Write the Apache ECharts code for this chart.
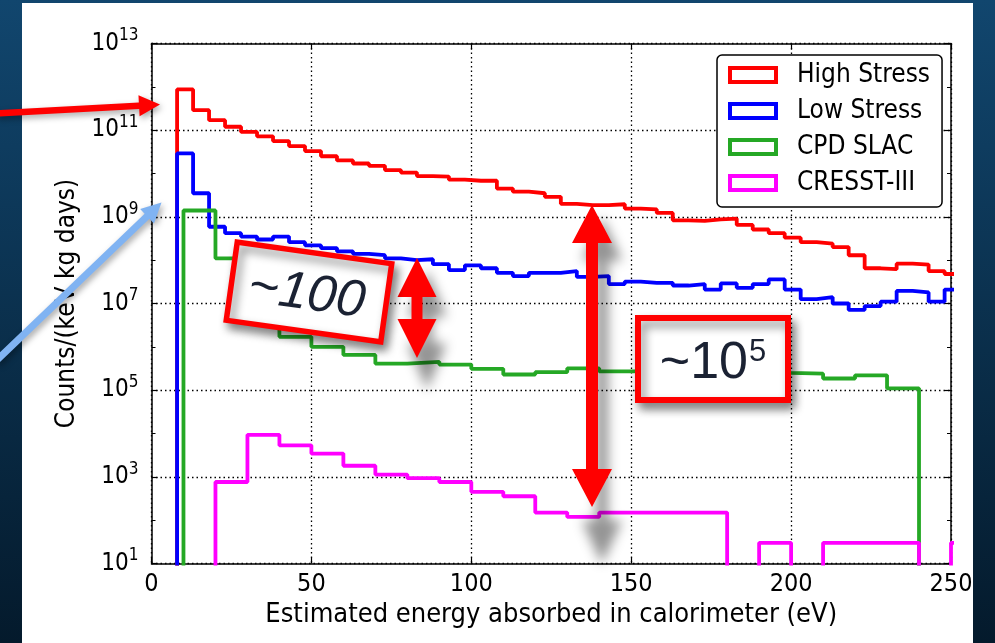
<!DOCTYPE html>
<html>
<head>
<meta charset="utf-8">
<title>Background spectra</title>
<script src="https://cdn.jsdelivr.net/npm/echarts@6/dist/echarts.min.js"></script>
<style>
  html, body { margin: 0; padding: 0; background: #0a3050; }
  #main { width: 995px; height: 643px; }
</style>
</head>
<body>
<div id="main"></div>
<script>
// histogram binning (eV): first edge and bin width
var stressStart = 8, stressWidth = 5;
var cpdStart = 10, cpdWidth = 10;
var cresstStart = 20, cresstWidth = 10;

// counts / (keV kg days), one value per bin
var highStress = [8.7e11, 2.9e11, 1.7e11, 1.2e11, 9.1e10, 7.2e10, 5.6e10, 4.3e10, 3.3e10, 2.5e10,
  2.0e10, 1.7e10, 1.5e10, 1.2e10, 1.05e10, 8.7e9, 8.5e9, 7.2e9, 6.8e9, 6.8e9,
  4.5e9, 3.8e9, 3.5e9, 2.9e9, 2.0e9, 1.86e9, 1.86e9, 1.95e9, 1.55e9, 1.48e9,
  1.23e9, 8.3e8, 8.1e8, 8.7e8, 9.1e8, 6.5e8, 5.1e8, 4.2e8, 3.3e8, 2.6e8,
  2.4e8, 2.0e8, 1.3e8, 6.5e7, 6.2e7, 8.3e7, 7.9e7, 5.6e7, 4.8e7];
var lowStress = [2.9e10, 3.5e9, 5.9e8, 4.2e8, 3.5e8, 3.0e8, 3.5e8, 2.6e8, 2.2e8, 1.9e8,
  1.6e8, 1.4e8, 1.3e8, 1.1e8, 1.0e8, 1.05e8, 8.1e7, 5.9e7, 7.6e7, 6.5e7,
  5.1e7, 4.3e7, 5.1e7, 5.1e7, 5.6e7, 4.1e7, 4.3e7, 2.8e7, 3.2e7, 3.0e7,
  3.0e7, 2.6e7, 2.8e7, 2.1e7, 2.9e7, 2.3e7, 2.8e7, 3.6e7, 2.1e7, 1.26e7,
  1.4e7, 1.0e7, 7.1e6, 8.7e6, 1.1e7, 1.95e7, 1.8e7, 1.1e7, 2.1e7];
var cpdSlac = [1.4e9, 1.1e8, 1.2e7, 1.7e6, 1.0e6, 6.5e5, 4.1e5, 4.5e5, 3.9e5, 3.1e5,
  2.3e5, 2.6e5, 3.2e5, 2.7e5, 2.8e5, 2.8e5, 3.0e5, 2.7e5, 2.5e5, 2.4e5,
  1.86e5, 2.2e5, 1.1e5];
var cresst = [760, 9300, 5300, 3450, 1800, 1130, 930, 760, 450, 356,
  150, 119, 150, 150, 150, 150, 0, 30, 0, 30,
  30, 30, 0, 30];

var seriesNames = ['High Stress', 'Low Stress', 'CPD SLAC', 'CRESST-III'];
var seriesColors = ['#ff0000', '#0000ff', '#25a825', '#ff00ff'];
var xTicks = [0, 50, 100, 150, 200, 250];

// the original labels are tall and narrow
var FONT = "'DejaVu Sans Condensed', 'DejaVu Sans'";

// y axis is drawn in decades: log10(count); empty bins go below the axis and get clipped
function stepPoints(start, width, values) {
  var pts = [[start, 0]];
  for (var i = 0; i < values.length; i++) {
    pts.push([start + i * width, values[i] > 0 ? Math.log10(values[i]) : 0]);
  }
  pts.push([start + values.length * width, 0]);
  return pts;
}

function histSeries(idx, data) {
  return {
    name: seriesNames[idx],
    type: 'line',
    step: 'end',
    data: data,
    symbol: 'none',
    clip: true,
    color: seriesColors[idx],
    lineStyle: { color: seriesColors[idx], width: 3.8 },
    emphasis: { disabled: true }
  };
}

// arrow from tail to tip as one polygon
function arrowPts(x1, y1, x2, y2, w, hl, hw) {
  var dx = x2 - x1, dy = y2 - y1;
  var len = Math.sqrt(dx * dx + dy * dy);
  var ux = dx / len, uy = dy / len, nx = -uy, ny = ux;
  var bx = x2 - ux * hl, by = y2 - uy * hl;
  return [
    [x1 + nx * w / 2, y1 + ny * w / 2],
    [bx + nx * w / 2, by + ny * w / 2],
    [bx + nx * hw / 2, by + ny * hw / 2],
    [x2, y2],
    [bx - nx * hw / 2, by - ny * hw / 2],
    [bx - nx * w / 2, by - ny * w / 2],
    [x1 - nx * w / 2, y1 - ny * w / 2]
  ];
}

// vertical double headed arrow
function doubleArrowPts(cx, top, bottom, w, hl, hw) {
  return [
    [cx, top], [cx + hw / 2, top + hl], [cx + w / 2, top + hl],
    [cx + w / 2, bottom - hl], [cx + hw / 2, bottom - hl], [cx, bottom],
    [cx - hw / 2, bottom - hl], [cx - w / 2, bottom - hl],
    [cx - w / 2, top + hl], [cx - hw / 2, top + hl]
  ];
}

// blurred grey copy, stretched downwards like a cast shadow.
// the shape itself sits off screen, only its shadow is moved back in
var OFF = 3000;
function castShadow(pts, top, k, dx, dy) {
  return {
    type: 'polygon',
    z: 40,
    shape: { points: pts.map(function (p) { return [p[0] + dx + OFF, top + (p[1] - top) * k + dy]; }) },
    style: { fill: '#000', shadowColor: 'rgba(0,0,0,0.42)', shadowBlur: 12, shadowOffsetX: -OFF }
  };
}

var smallArrow = doubleArrowPts(417, 258, 358, 11, 39, 39);
var bigArrow = doubleArrowPts(592, 205, 507, 12, 38, 40);
var arrowShadow = { shadowColor: 'rgba(0,0,0,0.35)', shadowBlur: 6, shadowOffsetX: 2, shadowOffsetY: 3 };

var graphics = [
  { type: 'rect', z: -10, silent: true, shape: { x: 22, y: 3, width: 951, height: 645 }, style: { fill: '#fff' } },
  { type: 'polygon', z: 50, shape: { points: arrowPts(-4, 113.5, 160, 104.5, 6.5, 21, 21) },
    style: Object.assign({ fill: '#ff0000' }, arrowShadow) },
  { type: 'polygon', z: 50, shape: { points: arrowPts(-4, 361, 161.5, 202.5, 7, 20, 20) },
    style: Object.assign({ fill: '#80b3f2' }, arrowShadow) },
  castShadow(smallArrow, 258, 1.2, 10, 12),
  { type: 'polygon', z: 50, shape: { points: smallArrow }, style: { fill: '#ff0000' } },
  castShadow(bigArrow, 205, 1.15, 10, 12),
  { type: 'polygon', z: 50, shape: { points: bigArrow }, style: { fill: '#ff0000' } },
  {
    type: 'group', x: 309, y: 292, rotation: -8 * Math.PI / 180, z: 60,
    children: [
      { type: 'rect', z: 60, shape: { x: -78, y: -39.5, width: 156, height: 79 },
        style: { fill: '#fff', stroke: '#ff0000', lineWidth: 5.5,
          shadowColor: 'rgba(0,0,0,0.45)', shadowBlur: 10, shadowOffsetX: 4, shadowOffsetY: 6 } },
      { type: 'text', z: 61, x: -2, y: 3,
        style: { text: '~100', fontSize: 52, fontFamily: 'Liberation Sans', fontStyle: 'italic',
          fill: '#1b2233', align: 'center', verticalAlign: 'middle' } }
    ]
  },
  { type: 'rect', z: 60, shape: { x: 638, y: 318, width: 150, height: 82 },
    style: { fill: '#fff', stroke: '#ff0000', lineWidth: 6,
      shadowColor: 'rgba(0,0,0,0.45)', shadowBlur: 10, shadowOffsetX: 4, shadowOffsetY: 6 } },
  { type: 'text', z: 61, x: 748, y: 364,
    style: { text: '~10', fontSize: 52, fontFamily: 'Liberation Sans', fill: '#1b2233',
      align: 'right', verticalAlign: 'middle' } },
  { type: 'text', z: 61, x: 749, y: 352,
    style: { text: '5', fontSize: 31, fontFamily: 'Liberation Sans', fill: '#1b2233',
      align: 'left', verticalAlign: 'middle' } }
];

var axisLine = { show: true, onZero: false, lineStyle: { color: '#000', width: 1.5 } };
var axisTick = { show: true, inside: true, length: 6, lineStyle: { color: '#000', width: 1.2 } };
var gridDots = { show: true, lineStyle: { color: '#000', width: 1.3, type: [1.5, 3] } };

var chart = echarts.init(document.getElementById('main'));
chart.setOption({
  animation: false,
  backgroundColor: {
    type: 'linear', x: 0, y: 0, x2: 0, y2: 1,
    colorStops: [{ offset: 0, color: '#11466e' }, { offset: 1, color: '#041a2c' }]
  },
  grid: { left: 151.5, right: 44, top: 43.5, bottom: 79.5 },
  legend: {
    orient: 'vertical', left: 717, top: 55,
    padding: [7, 12, 11, 11],
    itemWidth: 46, itemHeight: 14, itemGap: 10,
    backgroundColor: '#fff', borderColor: '#000', borderWidth: 1.5, borderRadius: 5,
    selectedMode: false,
    textStyle: { fontFamily: FONT, fontSize: 26, color: '#000', lineHeight: 25, padding: [0, 0, 0, 16] },
    data: seriesNames.map(function (n, i) {
      return { name: n, icon: 'rect', itemStyle: { color: '#fff', borderColor: seriesColors[i], borderWidth: 4 } };
    })
  },
  xAxis: [{
    type: 'value', min: xTicks[0], max: xTicks[xTicks.length - 1], interval: 50,
    name: 'Estimated energy absorbed in calorimeter (eV)', nameLocation: 'middle', nameGap: 36,
    nameTextStyle: { fontFamily: FONT, fontSize: 27, color: '#000' },
    axisLine: axisLine, axisTick: axisTick,
    axisLabel: { fontFamily: FONT, fontSize: 25, color: '#000', margin: 8 },
    splitLine: gridDots
  }, {
    type: 'value', position: 'top', min: 0, max: 250, interval: 50,
    axisLine: axisLine, axisTick: axisTick, axisLabel: { show: false }, splitLine: { show: false }
  }],
  yAxis: [{
    type: 'value', min: 1, max: 13, interval: 2,
    name: 'Counts/(keV kg days)', nameLocation: 'middle', nameGap: 70,
    nameTextStyle: { fontFamily: FONT, fontSize: 26, color: '#000' },
    axisLine: axisLine, axisTick: axisTick,
    minorTick: { show: true, splitNumber: 2, length: 4, lineStyle: { color: '#000' } },
    axisLabel: {
      margin: 13, color: '#000',
      formatter: function (v) { return '{b|10}{s|' + v + '}'; },
      rich: {
        b: { fontFamily: FONT, fontSize: 24, lineHeight: 32, color: '#000' },
        s: { fontFamily: FONT, fontSize: 17, verticalAlign: 'top', color: '#000' }
      }
    },
    splitLine: gridDots
  }, {
    type: 'value', position: 'right', min: 1, max: 13, interval: 2,
    axisLine: axisLine, axisTick: axisTick,
    minorTick: { show: true, splitNumber: 2, length: 4, lineStyle: { color: '#000' } },
    axisLabel: { show: false }, splitLine: { show: false }
  }],
  series: [
    histSeries(0, stepPoints(stressStart, stressWidth, highStress)),
    histSeries(1, stepPoints(stressStart, stressWidth, lowStress)),
    histSeries(2, stepPoints(cpdStart, cpdWidth, cpdSlac)),
    histSeries(3, stepPoints(cresstStart, cresstWidth, cresst))
  ],
  graphic: graphics
});
</script>
</body>
</html>
